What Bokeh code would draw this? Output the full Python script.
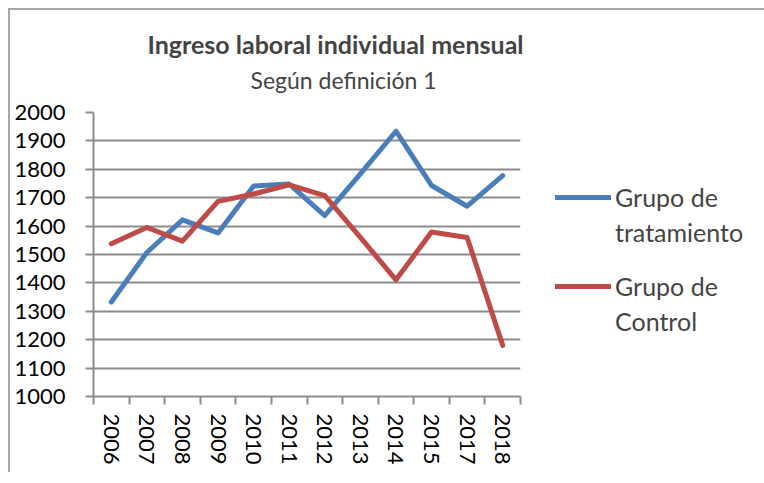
from bokeh.plotting import figure
from bokeh.models import Range1d, FixedTicker, Legend, LegendItem, Title
from bokeh.embed import file_html
from bokeh.resources import INLINE

years = ["2006", "2007", "2008", "2009", "2010", "2011", "2012", "2013", "2014", "2015", "2017", "2018"]
tratamiento = [1333, 1507, 1622, 1576, 1741, 1748, 1637, 1784, 1934, 1743, 1670, 1778]
control = [1538, 1595, 1547, 1687, 1713, 1745, 1707, 1560, 1411, 1579, 1560, 1180]
y_ticks = list(range(1000, 2001, 100))
series_names = [("Grupo de", "tratamiento"), ("Grupo de", "Control")]

FONT = "Lato"
GRID = "#8c8c8c"
BLUE = "#4A7EBB"
RED = "#BE4B48"

x = [i + 0.5 for i in range(len(years))]

p = figure(frame_width=427, frame_height=284,
           min_border_left=83, min_border_right=238, min_border_top=102, min_border_bottom=76,
           x_range=Range1d(0, len(years)), y_range=Range1d(1000, 2000),
           output_backend="svg", toolbar_location=None,
           background_fill_color="white", border_fill_color="white")
p.margin = (8, 0, 0, 8)
p.styles = {"border-left": "2px solid #a6a6a6", "border-top": "2px solid #a6a6a6"}
p.outline_line_color = None

r1 = p.line(x, tratamiento, line_color=BLUE, line_width=5, line_cap="round", line_join="round")
r2 = p.line(x, control, line_color=RED, line_width=5, line_cap="round", line_join="round")
blank = p.line([], [], line_alpha=0)

# x axis: labels at category centers, tick marks at boundaries
xa = p.xaxis[0]
xa.ticker = FixedTicker(ticks=x, minor_ticks=list(range(len(years) + 1)))
xa.major_label_overrides = {xv: yr for xv, yr in zip(x, years)}
xa.major_tick_line_color = None
xa.minor_tick_line_color = GRID
xa.minor_tick_line_width = 2
xa.minor_tick_out = 8
xa.minor_tick_in = 0
xa.major_label_orientation = "vertical"
xa.major_label_standoff = 9
xa.major_label_text_font = FONT
xa.major_label_text_font_size = "22px"
xa.major_label_text_color = "black"
xa.axis_line_color = GRID
xa.axis_line_width = 2

ya = p.yaxis[0]
ya.ticker = FixedTicker(ticks=y_ticks)
ya.minor_tick_line_color = None
ya.major_tick_line_color = GRID
ya.major_tick_line_width = 2
ya.major_tick_out = 8
ya.major_tick_in = 0
ya.major_label_standoff = 20
ya.major_label_text_font = FONT
ya.major_label_text_font_size = "22px"
ya.major_label_text_color = "black"
ya.axis_line_color = GRID
ya.axis_line_width = 2

p.xgrid.grid_line_color = None
p.ygrid.grid_line_color = GRID
p.ygrid.grid_line_width = 2
p.ygrid.ticker = FixedTicker(ticks=y_ticks)

p.add_layout(Title(text="Según definición 1", text_font=FONT, text_font_size="23px",
                   text_font_style="normal", align="left", offset=157, standoff=38), "above")
p.add_layout(Title(text="Ingreso laboral individual mensual", text_font=FONT, text_font_size="25px",
                   text_font_style="bold", align="left", offset=54, standoff=-29), "above")

items = [
    LegendItem(label=series_names[0][0], renderers=[r1]),
    LegendItem(label=series_names[0][1], renderers=[blank]),
    LegendItem(label="", renderers=[blank]),
    LegendItem(label=series_names[1][0], renderers=[r2]),
    LegendItem(label=series_names[1][1], renderers=[blank]),
]
lg = Legend(items=items, location=(35, 60), label_text_font=FONT, label_text_font_size="25px",
            glyph_width=56, glyph_height=14, label_height=14, label_standoff=4, spacing=5,
            border_line_color=None, background_fill_alpha=0, margin=0, padding=0)
p.add_layout(lg, "right")

open("out.html", "w").write(file_html(p, INLINE))
